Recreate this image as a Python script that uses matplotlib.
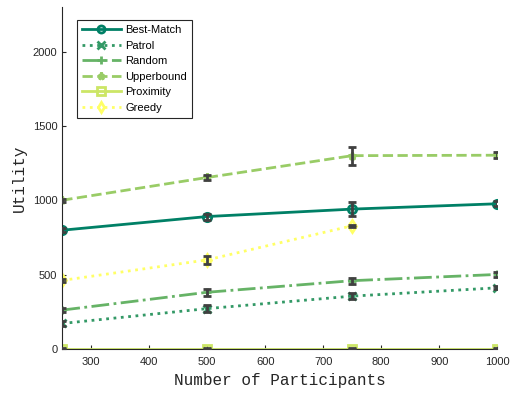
import matplotlib
matplotlib.use('Agg')
from matplotlib import pyplot as plt
import numpy as np

participants = [250, 500, 750, 1000]

names = ['Best-Match', 'Patrol', 'Random', 'Upperbound', 'Proximity', 'Greedy']

best_match = [800, 892, 942, 978]
best_match_err = [12, 20, 45, 18]
patrol = [172, 272, 356, 412]
patrol_err = [15, 22, 22, 10]
random_ = [262, 382, 460, 502]
random_err = [15, 25, 20, 15]
upperbound = [1002, 1155, 1302, 1305]
upperbound_err = [10, 18, 60, 22]
proximity = [3, 3, 3, 3]
proximity_err = [5, 5, 5, 5]
greedy = [462, 600, 830]
greedy_err = [12, 25, 6]

series = [
    (participants, best_match, best_match_err, '-', 'o'),
    (participants, patrol, patrol_err, ':', 'x'),
    (participants, random_, random_err, '-.', '+'),
    (participants, upperbound, upperbound_err, '--', '*'),
    (participants, proximity, proximity_err, '-', 's'),
    (participants[:3], greedy, greedy_err, ':', 'd'),
]

cmap = plt.get_cmap('summer')
colors = [cmap(i / 5) for i in range(6)]

fig = plt.figure(figsize=(5.19, 3.93), dpi=100)
ax = fig.add_axes([0.12, 0.112, 0.838, 0.869])

lines = []
for (xs, ys, es, ls, mk), c, name in zip(series, colors, names):
    ln, = ax.plot(xs, ys, linestyle=ls, marker=mk, color=c, lw=2,
                  markersize=6, markerfacecolor='none' if mk in 'osd' else c,
                  markeredgewidth=2, label=name, zorder=2)
    ax.errorbar(xs, ys, yerr=es, fmt='none', ecolor='#404040', elinewidth=2,
                capsize=3, capthick=2, zorder=3)
    lines.append(ln)

ax.set_xlim(250, 1000)
ax.set_ylim(0, 2300)
ax.set_xticks(range(300, 1001, 100))
ax.set_yticks([0, 500, 1000, 1500, 2000])
ax.spines['top'].set_visible(False)
ax.spines['right'].set_visible(False)
for s in ['left', 'bottom']:
    ax.spines[s].set_color('#262626')
ax.tick_params(direction='in', labelsize=8, colors='#262626', length=3)
ax.tick_params(axis='x', pad=6)
for lab in ax.get_xticklabels() + ax.get_yticklabels():
    lab.set_family('Liberation Sans')

ax.set_xlabel('Number of Participants', family='Liberation Mono', fontsize=11.5, color='#262626')
ax.set_ylabel('Utility', family='Liberation Mono', fontsize=11.5, color='#262626')

leg = ax.legend(handles=lines, loc='upper left', bbox_to_anchor=(0.033, 0.963),
                borderaxespad=0,
                prop={'family': 'Liberation Sans', 'size': 8}, fancybox=False,
                edgecolor='#262626', framealpha=1, handlelength=3.5,
                handletextpad=0.45, labelspacing=0.5, borderpad=0.45,
                markerscale=0.85)
leg.get_frame().set_linewidth(0.8)

fig.savefig('out.png', dpi=100)
